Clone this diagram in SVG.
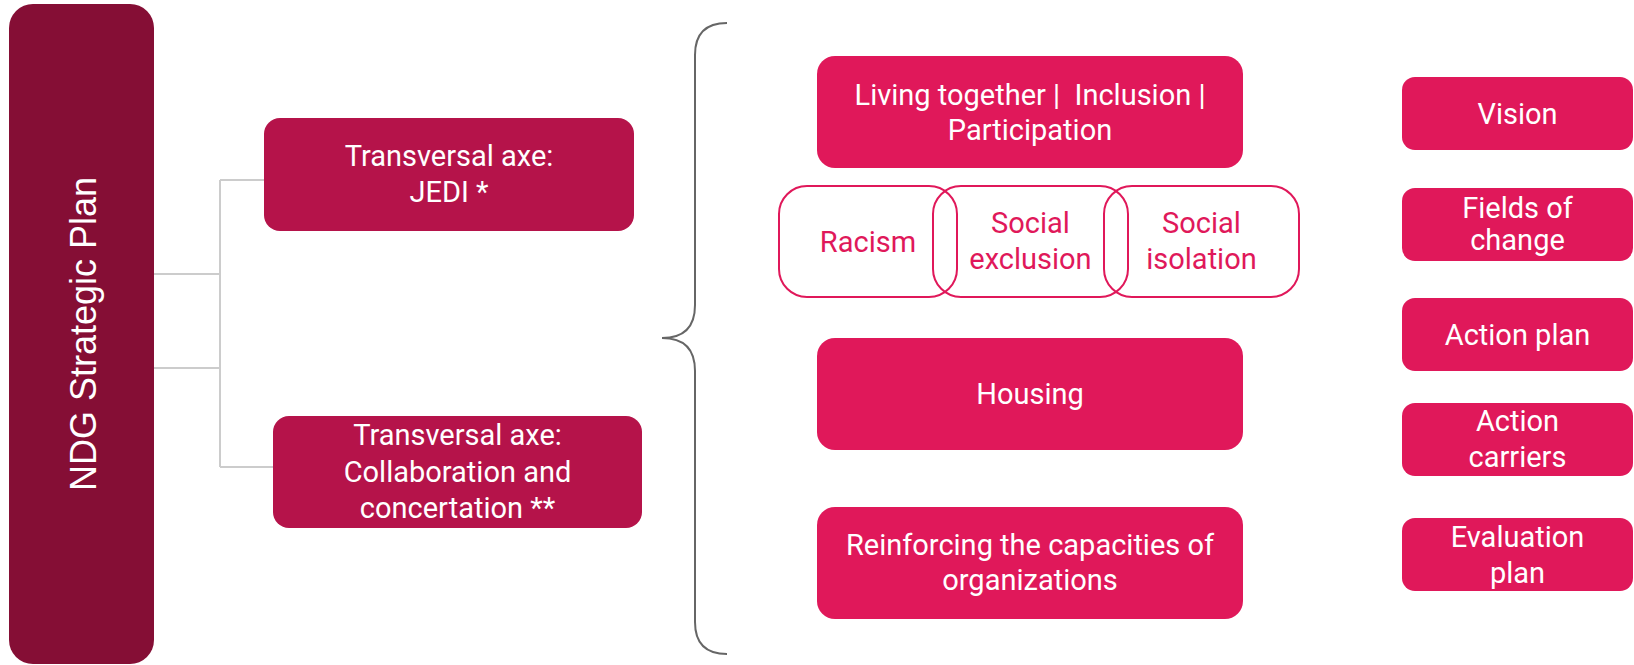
<svg xmlns="http://www.w3.org/2000/svg" width="1634" height="665" viewBox="0 0 1634 665">
<style>
.main{fill:#850e35}
.axe{fill:#b5134a}
.pink{fill:#e0185a}
.out{fill:none;stroke:#e0185a;stroke-width:2}
.t{font-family:Roboto,"Liberation Sans",sans-serif;fill:#fff;text-anchor:middle}
.m{font-size:29px}
.r{font-size:29px}
.pt{font-family:Roboto,"Liberation Sans",sans-serif;fill:#e0185a;text-anchor:middle;font-size:29px}
.conn{fill:none;stroke:#cccccc;stroke-width:2}
.brace{fill:none;stroke:#666;stroke-width:2}
</style>
<rect width="1634" height="665" fill="#fff"/>
<g id="connectors">
<path class="conn" d="M154,274 H220 M154,368 H220 M220,180 V467 M220,180 H264 M220,467 H273"/>
<path class="brace" d="M727,23 Q695,23 695,55 L695,305 Q695,338 662,338 Q695,338 695,371 L695,622 Q695,654 727,654"/>
</g>
<g id="ndg">
<rect class="main" x="9" y="4" width="145" height="660" rx="24"/>
<text transform="translate(96,334) rotate(-90)" text-anchor="middle" font-family="'Liberation Sans',Arial,sans-serif" font-size="36" fill="#fff">NDG Strategic Plan</text>
</g>
<g id="jedi">
<rect class="axe" x="264" y="118" width="370" height="113" rx="16"/>
<text class="t m" x="449" y="166">Transversal axe:</text>
<text class="t m" x="449" y="202">JEDI *</text>
</g>
<g id="collab">
<rect class="axe" x="273" y="416" width="369" height="112" rx="16"/>
<text class="t m" x="457.5" y="445">Transversal axe:</text>
<text class="t m" x="457.5" y="482">Collaboration and</text>
<text class="t m" x="457.5" y="518">concertation **</text>
</g>
<g id="living">
<rect class="pink" x="817" y="56" width="426" height="112" rx="18"/>
<text class="t m" x="1030" y="105">Living together |&#160; Inclusion |</text>
<text class="t m" x="1030" y="140">Participation</text>
</g>
<g id="racism">
<rect class="out" x="779" y="186" width="178" height="111" rx="28"/>
<text class="pt" x="868" y="252">Racism</text>
</g>
<g id="exclusion">
<rect class="out" x="933" y="186" width="195" height="111" rx="28"/>
<text class="pt" x="1030.5" y="233">Social</text>
<text class="pt" x="1030.5" y="269">exclusion</text>
</g>
<g id="isolation">
<rect class="out" x="1104" y="186" width="195" height="111" rx="28"/>
<text class="pt" x="1201.5" y="233">Social</text>
<text class="pt" x="1201.5" y="269">isolation</text>
</g>
<g id="housing">
<rect class="pink" x="817" y="338" width="426" height="112" rx="18"/>
<text class="t m" x="1030" y="404">Housing</text>
</g>
<g id="reinforcing">
<rect class="pink" x="817" y="507" width="426" height="112" rx="18"/>
<text class="t m" x="1030" y="555">Reinforcing the capacities of</text>
<text class="t m" x="1030" y="590">organizations</text>
</g>
<g id="vision">
<rect class="pink" x="1402" y="77" width="231" height="73" rx="13"/>
<text class="t r" x="1517.5" y="124">Vision</text>
</g>
<g id="fields">
<rect class="pink" x="1402" y="188" width="231" height="73" rx="13"/>
<text class="t r" x="1517.5" y="218">Fields of</text>
<text class="t r" x="1517.5" y="250">change</text>
</g>
<g id="actionplan">
<rect class="pink" x="1402" y="298" width="231" height="73" rx="13"/>
<text class="t r" x="1517.5" y="345">Action plan</text>
</g>
<g id="carriers">
<rect class="pink" x="1402" y="403" width="231" height="73" rx="13"/>
<text class="t r" x="1517.5" y="431">Action</text>
<text class="t r" x="1517.5" y="467">carriers</text>
</g>
<g id="evaluation">
<rect class="pink" x="1402" y="518" width="231" height="73" rx="13"/>
<text class="t r" x="1517.5" y="547">Evaluation</text>
<text class="t r" x="1517.5" y="583">plan</text>
</g>
</svg>
